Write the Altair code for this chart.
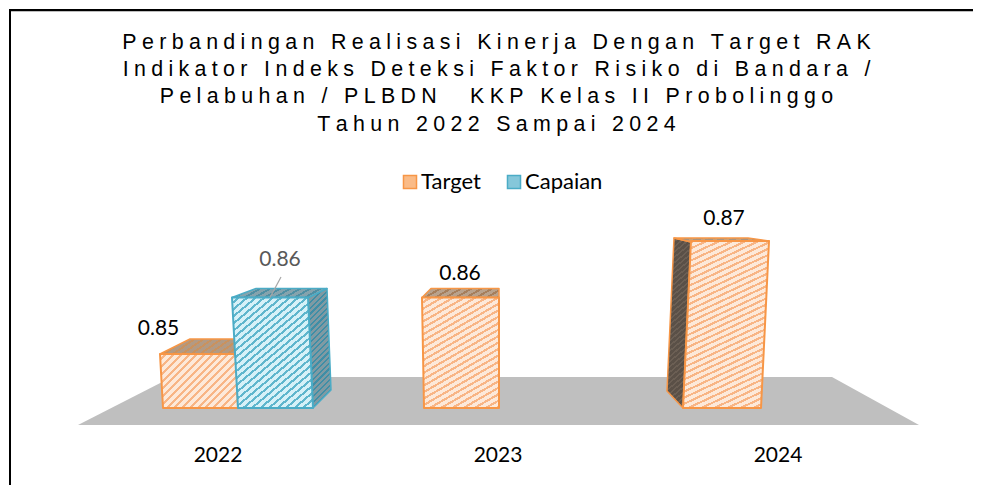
import altair as alt
import pandas as pd

# ---- values ----
years = [2022, 2023, 2024]
target = [0.85, 0.86, 0.87]
capaian = [0.86]  # only 2022 has a Capaian bar
series = ["Target", "Capaian"]
title_lines = [
    "Perbandingan Realisasi Kinerja Dengan Target RAK",
    "Indikator Indeks Deteksi Faktor Risiko di Bandara /",
    "Pelabuhan / PLBDN  KKP Kelas II Probolinggo",
    "Tahun 2022 Sampai 2024",
]

# ---- page geometry ----
W, H = 965, 477
YEAR_PX = 280.0


def ux(px):  # page pixel -> year axis units
    return 2022 + (px - 218) / YEAR_PX


def uy(py):  # page pixel -> value axis units
    return 0.85 + (354 - py) / 5650.0


def py_of(v):
    return 354 - (v - 0.85) * 5650.0


x_scale = alt.Scale(domain=[ux(8), ux(8 + W)], nice=False, zero=False)
y_scale = alt.Scale(domain=[uy(8 + H), uy(8)], nice=False, zero=False)


def spaced(s):
    sp = "\u2005"
    return sp.join(list(s))


def hatch(verts, angle, period, bg, fg, duty=0.38):
    import math
    xs = [v[0] for v in verts]
    ys = [v[1] for v in verts]
    w, h = max(xs) - min(xs), max(ys) - min(ys)
    th = math.radians(angle)
    a0, b0 = w * math.sin(th), h * math.cos(th)
    k = (a0 + b0) / (a0 * a0 + b0 * b0)
    a, b = a0 * k, b0 * k
    n = max(1, round((a0 + b0) / period))
    stops = []
    for i in range(n):
        s = i / n
        m = (i + 1 - duty) / n
        e = (i + 1) / n
        stops += [
            alt.GradientStop(color=bg, offset=s),
            alt.GradientStop(color=bg, offset=m),
            alt.GradientStop(color=fg, offset=m),
            alt.GradientStop(color=fg, offset=e),
        ]
    return alt.LinearGradient(gradient="linear", x1=0, y1=0, x2=a, y2=b, stops=stops)


def rows(verts):
    n = len(verts)
    out = []
    for y in sorted({v[1] for v in verts}):
        hits = []
        for i in range(n):
            (x0, y0), (x1, y1) = verts[i], verts[(i + 1) % n]
            if min(y0, y1) <= y <= max(y0, y1):
                if y0 == y1:
                    hits += [x0, x1]
                else:
                    hits.append(x0 + (x1 - x0) * (y - y0) / (y1 - y0))
        out.append({"y": uy(y), "x": ux(min(hits)), "x2": ux(max(hits))})
    return pd.DataFrame(out)


def face(verts, fill, stroke=None, sw=2.0):
    kw = {"orient": "horizontal", "fill": fill, "opacity": 1, "line": False, "clip": True}
    if stroke:
        kw.update(stroke=stroke, strokeWidth=sw, strokeJoin="round")
    return alt.Chart(rows(verts)).mark_area(**kw).encode(
        x=alt.X("x:Q", scale=x_scale, axis=None),
        x2="x2:Q",
        y=alt.Y("y:Q", scale=y_scale, axis=None),
    )


OR, OR_BG, OR_FG = "#f79646", "#fde9d9", "#f8b585"
BL, BL_BG, BL_FG = "#4bacc6", "#d6f1f8", "#5fb6cd"

layers = []

# floor
layers.append(face([(172, 377), (832, 377), (919, 425), (78, 425)], "#bfbfbf"))

# Target 2022
t = py_of(target[0])
top = [(190, t - 15), (238, t - 15), (236, t), (160, t)]
layers.append(face(top, hatch(top, 35, 5, "#b29a84", "#c9925f"), OR, 1.5))
front = [(160, t), (236, t), (238, 408), (163, 408)]
layers.append(face(front, hatch(front, 45, 5.5, OR_BG, OR_FG), OR))

# Capaian 2022
t = py_of(capaian[0])
side = [(308, t), (327, t - 9), (331, 390), (313, 408)]
layers.append(face(side, hatch(side, 45, 4, "#7f9aa3", "#3f8ea6"), BL, 1.5))
top = [(256, t - 9), (327, t - 9), (308, t), (232, t)]
layers.append(face(top, hatch(top, 30, 5, "#85a3ad", "#4f8fa3"), BL, 1.5))
front = [(232, t), (308, t), (313, 408), (238, 408)]
layers.append(face(front, hatch(front, 40, 5.5, BL_BG, BL_FG), BL))

# Target 2023
t = py_of(target[1])
top = [(431, t - 9), (499, t - 9), (499, t), (422, t)]
layers.append(face(top, hatch(top, 30, 5, "#b9a28c", "#a67f5c"), OR, 1.5))
front = [(422, t), (499, t), (499, 408), (424, 408)]
layers.append(face(front, hatch(front, 30, 5.5, OR_BG, OR_FG), OR))

# Target 2024
t = py_of(target[2])
side = [(674, t - 3), (691, t + 1), (683, 408), (667, 391)]
layers.append(face(side, hatch(side, 40, 4, "#5a5047", "#6b5f54"), OR, 1.5))
top = [(674, t - 3), (748, t - 3), (769, t), (691, t + 1)]
layers.append(face(top, hatch(top, 20, 4, "#a89480", "#c9a078"), OR, 1.5))
front = [(691, t), (769, t), (761, 408), (683, 408)]
layers.append(face(front, hatch(front, 25, 5.5, OR_BG, OR_FG), OR))

# year labels, placed through the year scale
year_df = pd.DataFrame({"year": years, "y": [uy(456)] * len(years)})
layers.append(
    alt.Chart(year_df).mark_text(
        font="Lato", fontSize=21, color="#000000", baseline="middle"
    ).encode(
        x=alt.X("year:Q", scale=x_scale, axis=None),
        y=alt.Y("y:Q", scale=y_scale, axis=None),
        text=alt.Text("year:Q", format="d"),
    )
)

# value labels
lab = pd.DataFrame({
    "x": [ux(158.5), ux(460), ux(724)],
    "y": target,
    "t": target,
})
lab_dy = [-25, -24, -22]
for i in range(3):
    layers.append(
        alt.Chart(lab.iloc[[i]]).mark_text(
            font="Lato", fontSize=21, color="#000000", baseline="middle", dy=lab_dy[i]
        ).encode(
            x=alt.X("x:Q", scale=x_scale, axis=None),
            y=alt.Y("y:Q", scale=y_scale, axis=None),
            text=alt.Text("t:Q", format=".2f"),
        )
    )
cap_df = pd.DataFrame({"x": [ux(280)], "y": capaian, "t": capaian})
layers.append(
    alt.Chart(cap_df).mark_text(
        font="Lato", fontSize=21, color="#595959", baseline="middle", dy=-38
    ).encode(
        x=alt.X("x:Q", scale=x_scale, axis=None),
        y=alt.Y("y:Q", scale=y_scale, axis=None),
        text=alt.Text("t:Q", format=".2f"),
    )
)
# leader line
leader = pd.DataFrame({"x": [ux(281)], "x2": [ux(270)], "y": [uy(277)], "y2": [capaian[0]]})
layers.append(
    alt.Chart(leader).mark_rule(color="#a6a6a6", strokeWidth=1.2).encode(
        x=alt.X("x:Q", scale=x_scale, axis=None),
        x2="x2:Q",
        y=alt.Y("y:Q", scale=y_scale, axis=None),
        y2="y2:Q",
    )
)

# legend
leg = pd.DataFrame({"s": series, "x": [ux(300)] * 2, "y": [0.85] * 2})
color_scale = alt.Scale(domain=series, range=["#fabb87", "#85c7da"])
stroke_scale = alt.Scale(domain=series, range=[OR, BL])
layers.append(
    alt.Chart(leg).mark_square(opacity=0, size=170, strokeWidth=1.5).encode(
        x=alt.X("x:Q", scale=x_scale, axis=None),
        y=alt.Y("y:Q", scale=y_scale, axis=None),
        fill=alt.Fill(
            "s:N", scale=color_scale, sort=series, title=None,
            legend=alt.Legend(
                orient="none", legendX=391, legendY=163, direction="horizontal", columns=2,
                symbolOpacity=1, symbolType="square", symbolSize=170, symbolStrokeWidth=1.5,
                labelFont="Lato", labelFontSize=22, labelColor="#000000", labelOffset=0,
                columnPadding=22, title=None, padding=0,
            ),
        ),
        stroke=alt.Stroke("s:N", scale=stroke_scale, sort=series, legend=None),
    )
)

# picture frame (top and left only)
layers.append(alt.Chart().mark_rule(color="#000000", strokeWidth=2).encode(
    x=alt.value(1), x2=alt.value(W), y=alt.value(2)))
layers.append(alt.Chart().mark_rule(color="#bdbdbd", strokeWidth=1).encode(
    x=alt.value(3), x2=alt.value(W), y=alt.value(3.5)))
layers.append(alt.Chart().mark_rule(color="#000000", strokeWidth=2).encode(
    x=alt.value(2), y=alt.value(1), y2=alt.value(H)))

word_gap = "\u2005 \u2005"
title = alt.TitleParams(
    text=[word_gap.join(spaced(w) for w in line.split(" ")) for line in title_lines],
    font="Liberation Sans", fontSize=21.4, fontWeight="normal", color="#000000",
    lineHeight=27.3, anchor="middle", frame="group", baseline="top", offset=-127, dx=6,
)

chart = (
    alt.layer(*layers)
    .properties(
        width=W, height=H, title=title, padding=0,
        autosize=alt.AutoSizeParams(type="none"),
    )
    .resolve_scale(fill="independent", stroke="independent")
    .configure_view(stroke=None)
)
chart.save("out.html", embed_options={"renderer": "svg", "actions": False})
